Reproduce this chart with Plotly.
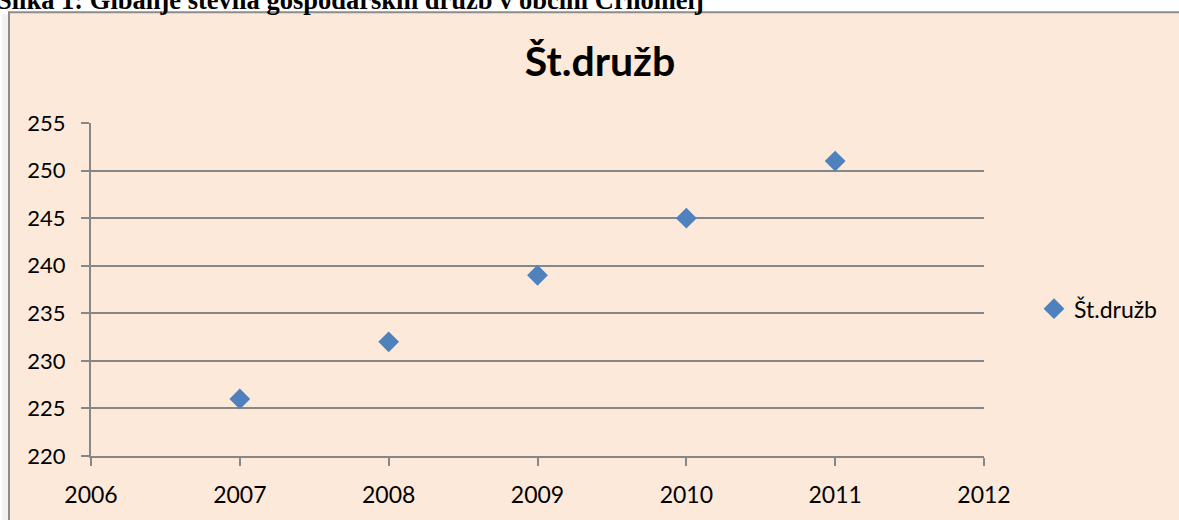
import plotly.graph_objects as go

years = [2007, 2008, 2009, 2010, 2011]
values = [226, 232, 239, 245, 251]
series_name = "Št.družb"
chart_title = "Št.družb"
caption = "Slika 1: Gibanje števila gospodarskih družb v občini Črnomelj"
y_ticks = [220, 225, 230, 235, 240, 245, 250, 255]
x_ticks = [2006, 2007, 2008, 2009, 2010, 2011, 2012]

W, H = 1179, 520
L, R, T, B = 91, 984, 123, 460
pw, ph = R - L, B - T

def px(x):
    return (x - L) / pw

def py(y):
    return (B - y) / ph

BG = "#FDE9D9"
GRID = "#878787"
FONT = "Lato"

fig = go.Figure()
fig.add_trace(go.Scatter(
    x=years, y=values, mode="markers", name=series_name,
    marker=dict(symbol="diamond", size=16, color="#4F81BD",
                line=dict(width=0)),
))

fig.update_layout(
    width=W, height=H,
    margin=dict(l=L, r=W - R, t=T, b=H - B, pad=0),
    paper_bgcolor="white",
    plot_bgcolor=BG,
    showlegend=True,
    legend=dict(x=px(1034), y=py(311), xanchor="left", yanchor="middle",
                font=dict(family=FONT, size=23, color="black"),
                bgcolor="rgba(0,0,0,0)", itemwidth=30),
    title=dict(text="<b>" + chart_title + "</b>", x=px(600), xref="paper",
               xanchor="center", y=1 - 62 / H, yanchor="middle",
               font=dict(family=FONT, size=41, color="black")),
    font=dict(family=FONT, size=23, color="black"),
)

fig.update_xaxes(
    range=[2006, 2012], tickvals=x_ticks, ticktext=[str(v) for v in x_ticks],
    showgrid=False, zeroline=False,
    showline=True, linecolor=GRID, linewidth=2,
    ticks="outside", ticklen=8, tickcolor=GRID, tickwidth=2,
    tickfont=dict(family=FONT, size=23, color="black"),
    ticklabelstandoff=9,
)
fig.update_yaxes(
    range=[220, 255], tickvals=y_ticks, ticktext=[str(v) for v in y_ticks],
    showgrid=True, gridcolor=GRID, gridwidth=2, zeroline=False,
    showline=True, linecolor=GRID, linewidth=2,
    ticks="outside", ticklen=8, tickcolor=GRID, tickwidth=2,
    tickfont=dict(family=FONT, size=22, color="black"),
    ticklabelstandoff=11,
)

# chart area box (outer frame) with soft shadow on left
fig.add_shape(type="rect", xref="paper", yref="paper",
              x0=px(2), x1=px(9), y0=py(560), y1=py(13),
              fillcolor="#F2F2F2", line=dict(width=0), layer="below")
fig.add_shape(type="rect", xref="paper", yref="paper",
              x0=px(9), x1=px(1200), y0=py(560), y1=py(11),
              fillcolor=BG, line=dict(color="#8C8C8C", width=2), layer="below")

fig.add_annotation(
    text="<b>" + caption + "</b>", xref="paper", yref="paper",
    x=px(-5), y=py(-1), xanchor="left", yanchor="middle", showarrow=False,
    font=dict(family="Liberation Serif", size=26.5, color="black"),
)

fig.write_html("out.html", config={"displayModeBar": False}, post_script=[
    "document.body.style.margin='0';document.body.style.overflow='hidden';"
])
